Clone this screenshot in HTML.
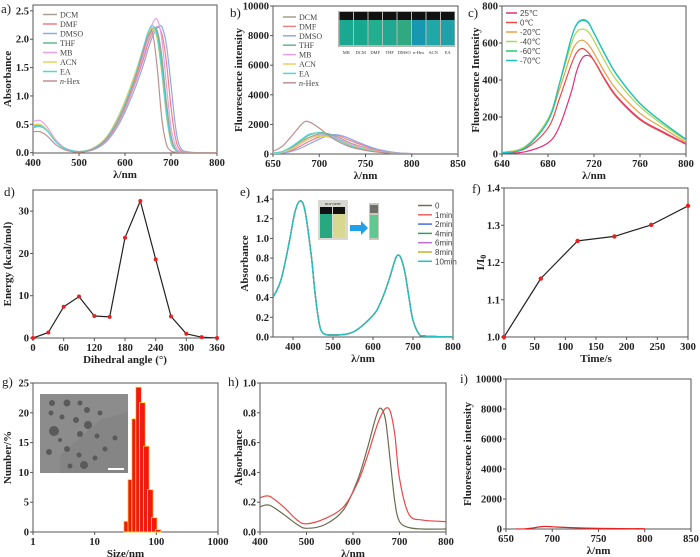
<!DOCTYPE html>
<html><head><meta charset="utf-8"><style>
html,body{margin:0;padding:0;background:#fff;}
svg{display:block;font-family:"Liberation Serif",serif;}
.tk{font-size:10.5px;font-weight:bold;fill:#222;}
.ttl{font-size:11px;font-weight:bold;fill:#222;}
.lg{font-size:8px;fill:#444;}
.lgs{font-size:8px;fill:#444;font-family:"Liberation Sans",sans-serif;}
.pl{font-size:13px;fill:#222;}
</style></head><body>
<svg id="fig" width="700" height="557" viewBox="0 0 700 557" xmlns="http://www.w3.org/2000/svg"></svg>
<script>
// ---------- data ----------
const aWl=[400,415,430,450,470,500,530,560,590,620,640,650,660,670,680,690,700,710,720,740,800];
const aNames=["DCM","DMF","DMSO","THF","MB","ACN","EA","n-Hex"];
const aColors=["#a89f95","#f08080","#8fa8e8","#60b890","#e8a0e8","#e8d060","#50d8d8","#c09090"];
const aDCM=[0.47,0.48,0.40,0.20,0.07,0.02,0.07,0.25,0.65,1.25,1.75,2.00,2.18,2.15,1.70,0.90,0.30,0.06,0.01,0,0];
const aDMF=[0.45,0.47,0.40,0.20,0.07,0.02,0.06,0.22,0.60,1.18,1.65,1.92,2.12,2.22,2.10,1.60,0.80,0.25,0.05,0,0];
const aDMSO=[0.44,0.46,0.40,0.21,0.08,0.02,0.05,0.20,0.55,1.10,1.55,1.82,2.05,2.20,2.22,1.90,1.20,0.45,0.10,0.01,0];
const aTHF=[0.47,0.48,0.40,0.19,0.07,0.02,0.07,0.26,0.67,1.28,1.78,2.03,2.20,2.10,1.55,0.75,0.22,0.05,0.01,0,0];
const aMB=[0.55,0.57,0.46,0.22,0.08,0.02,0.06,0.23,0.62,1.22,1.72,2.02,2.28,2.35,2.00,1.20,0.45,0.12,0.02,0,0];
const aACN=[0.49,0.50,0.41,0.20,0.07,0.02,0.08,0.28,0.72,1.35,1.85,2.08,2.20,2.00,1.40,0.65,0.18,0.04,0.01,0,0];
const aEA=[0.46,0.47,0.39,0.19,0.07,0.02,0.07,0.26,0.68,1.30,1.85,2.12,2.24,2.05,1.45,0.70,0.20,0.05,0.01,0,0];
const aHex=[0.37,0.37,0.30,0.14,0.05,0.01,0.06,0.24,0.64,1.25,1.80,2.05,2.10,1.50,0.60,0.15,0.03,0.01,0,0,0];

const bWl=[650,660,670,680,685,690,700,710,720,730,740,760,780,800,850];
const bDCM=[60,150,400,800,1000,1150,1350,1350,1150,850,600,250,80,20,0];
const bDMF=[30,90,250,550,720,880,1150,1300,1250,1000,750,320,100,25,0];
const bDMSO=[20,60,180,400,550,700,1000,1250,1300,1120,850,380,120,30,0];
const bTHF=[50,150,450,900,1120,1300,1450,1350,1050,720,480,190,60,15,0];
const bMB=[40,120,330,700,880,1050,1250,1250,1050,780,540,220,70,20,0];
const bACN=[40,120,350,750,920,1080,1200,1150,950,700,480,200,60,15,0];
const bEA=[60,170,500,950,1180,1350,1420,1250,950,650,430,170,50,12,0];
const bHex=[180,520,1200,1950,2200,2150,1750,1250,850,560,370,150,50,12,0];

const cWl=[640,660,680,690,700,705,710,715,720,730,740,760,780,800];
const cNames=["25℃","0℃","-20℃","-40℃","-60℃","-70℃"];
const cColors=["#e0307f","#e84a4a","#e8a040","#b0d850","#20d070","#20c0c8"];
const c25=[3,12,60,150,330,450,520,532,505,400,310,190,120,55];
const c0=[5,28,140,300,480,550,570,548,505,395,305,185,115,52];
const cm20=[8,40,180,350,540,600,615,592,545,435,345,220,140,62];
const cm40=[8,40,190,380,590,660,675,660,612,495,395,255,158,72];
const cm60=[6,33,178,380,620,700,722,708,652,532,425,272,168,78];
const cm70=[6,34,180,382,622,703,726,712,655,535,428,274,170,80];

const dAngle=[0,30,60,90,120,150,180,210,240,270,300,330,360];
const dEnergy=[0,1.3,7.4,9.8,5.2,5.0,23.7,32.4,18.6,5.1,1.0,0.2,0];

const eWl=[350,370,390,405,418,430,445,455,465,475,500,550,600,620,640,655,662,670,680,690,700,715,730,800];
const eAbs=[0.40,0.58,0.95,1.27,1.38,1.28,0.85,0.45,0.15,0.04,0.02,0.05,0.22,0.36,0.58,0.78,0.83,0.80,0.65,0.40,0.17,0.03,0.01,0];
const eNames=["0","1min","2min","4min","6min","8min","10min"];
const eColors=["#707050","#f06060","#4070e0","#30a060","#c070d0","#d0b020","#20c0c8"];

const fTime=[0,60,120,180,240,300];
const fRatio=[1.0,1.157,1.258,1.270,1.301,1.352];

const gSize=[33,38.5,44.5,51.5,59.5,69,80,92.5,107];
const gNumber=[1.8,8.8,19.0,24.3,21.7,14.4,7.1,2.4,0.4];

const hWl=[400,420,450,480,500,540,580,610,630,650,660,670,680,690,700,720,750,800];
const hOlive=[0.17,0.18,0.12,0.05,0.025,0.05,0.15,0.35,0.55,0.78,0.83,0.75,0.48,0.20,0.07,0.03,0.02,0.02];
const hRed=[0.23,0.24,0.17,0.08,0.055,0.09,0.17,0.33,0.50,0.70,0.78,0.83,0.81,0.65,0.36,0.12,0.08,0.07];

const iWl=[660,670,680,690,700,720,750,800];
const iFl=[0,10,80,170,150,90,40,20];

// ---------- helpers ----------
const NS="http://www.w3.org/2000/svg";
const fig=document.getElementById('fig');
function mk(tag,attrs,parent){const e=document.createElementNS(NS,tag);for(const k in attrs)e.setAttribute(k,attrs[k]);(parent||fig).appendChild(e);return e;}
function lin(d0,d1,r0,r1){return v=>r0+(v-d0)/(d1-d0)*(r1-r0);}
function logS(d0,d1,r0,r1){return v=>r0+(Math.log10(v)-Math.log10(d0))/(Math.log10(d1)-Math.log10(d0))*(r1-r0);}
let clipN=0;
function frame(p){
  const g=mk('g',{});
  
  
  const id='cl'+(clipN++);
  const cp=mk('clipPath',{id:id},g);mk('rect',{x:p.x0,y:p.y0,width:p.x1-p.x0,height:p.y1-p.y0},cp);
  p.g=g;p.clip='url(#'+id+')';
  return g;
}
function axes(p,xt,xl,yt,yl){
  const g=p.g;
  const box=mk('rect',{x:p.x0,y:p.y0,width:p.x1-p.x0,height:p.y1-p.y0,fill:'none',stroke:'#555','stroke-width':1},g);
  
  
  xt.forEach((v,i)=>{const x=p.sx(v);
    mk('line',{x1:x,x2:x,y1:p.y1,y2:p.y1+3,stroke:'#555'},g);
    const t=mk('text',{x:x,y:p.y1+13,'text-anchor':'middle',class:'tk'},g);t.textContent=xl[i];
    
    });
  yt.forEach((v,i)=>{const y=p.sy(v);
    mk('line',{x1:p.x0-3,x2:p.x0,y1:y,y2:y,stroke:'#555'},g);
    const t=mk('text',{x:p.x0-4,y:y+3.5,'text-anchor':'end',class:'tk'},g);t.textContent=yl[i];
    
    });
}
function titles(p,xt,yt,yx,lab,lx,ly){
  const g=p.g;
  const t1=mk('text',{x:(p.x0+p.x1)/2,y:p.y1+25,'text-anchor':'middle',class:'ttl'},g);t1.innerHTML=xt;
  
  
  const cy=(p.y0+p.y1)/2;
  const t2=mk('text',{x:yx,y:cy,'text-anchor':'middle',class:'ttl',transform:'rotate(-90 '+yx+' '+cy+')'},g);t2.innerHTML=yt;
  
  
  const t3=mk('text',{x:lx,y:ly,class:'pl'},g);t3.textContent=lab;
  
  
}
function smoothPath(P){
  let d='M'+P[0][0].toFixed(1)+','+P[0][1].toFixed(1);
  for(let i=0;i<P.length-1;i++){
    const p0=P[Math.max(0,i-1)],p1=P[i],p2=P[i+1],p3=P[Math.min(P.length-1,i+2)];
    const c1x=p1[0]+(p2[0]-p0[0])/6,c1y=p1[1]+(p2[1]-p0[1])/6;
    const c2x=p2[0]-(p3[0]-p1[0])/6,c2y=p2[1]-(p3[1]-p1[1])/6;
    d+=' C'+c1x.toFixed(1)+','+c1y.toFixed(1)+' '+c2x.toFixed(1)+','+c2y.toFixed(1)+' '+p2[0].toFixed(1)+','+p2[1].toFixed(1);
  }
  return d;
}
function series(p,xs,ys,color,name,w,straight){
  const P=xs.map((x,i)=>[p.sx(x),p.sy(ys[i])]);
  let d;
  if(straight){d='M'+P.map(q=>q[0].toFixed(1)+','+q[1].toFixed(1)).join(' L');}
  else d=smoothPath(P);
  const l=mk('path',{d:d,fill:'none',stroke:color,'stroke-width':w||1.2,'stroke-linejoin':'round','clip-path':p.clip},p.g);
  
  
  return l;
}
function legend(p,names,colors,lx,ly,step,cls,len){
  names.forEach((n,i)=>{const y=ly+i*step;
    const l=mk('line',{x1:lx,x2:lx+len,y1:y,y2:y,stroke:colors[i],'stroke-width':1.5},p.g);
    
    
    const t=mk('text',{x:lx+len+3,y:y+3,class:cls},p.g);
    if(n==='n-Hex'){t.innerHTML='<tspan font-style="italic">n</tspan>-Hex';}else t.textContent=n;
    
    });
}
function rng(a,b,s){const r=[];for(let v=a;v<=b+1e-9;v+=s)r.push(+v.toFixed(4));return r;}

// ---------- panel a ----------
const pa={name:'panel-a-absorbance-solvents',x0:33,x1:217,y0:5,y1:153};pa.sx=lin(400,800,33,217);pa.sy=lin(0,2.603,152.7,5);frame(pa);
axes(pa,rng(400,800,100),rng(400,800,100).map(String),rng(0,2.5,0.5),rng(0,2.5,0.5).map(v=>v.toFixed(1)));
[aDCM,aDMF,aDMSO,aTHF,aMB,aACN,aEA,aHex].forEach((s,i)=>series(pa,aWl,s,aColors[i],'series-'+aNames[i].toLowerCase()));
legend(pa,aNames,aColors,43,14.5,9.5,'lg',14);
titles(pa,'λ/nm','Absorbance',11,'a)',1,13);

// ---------- panel b ----------
const pb={name:'panel-b-fluorescence-solvents',x0:273,x1:458,y0:6,y1:154};pb.sx=lin(650,850,273,458);pb.sy=lin(0,10000,154,6);frame(pb);
axes(pb,rng(650,850,50),rng(650,850,50).map(String),rng(0,10000,2000),rng(0,10000,2000).map(String));
[bDCM,bDMF,bDMSO,bTHF,bMB,bACN,bEA,bHex].forEach((s,i)=>series(pb,bWl,s,aColors[i],'series-'+aNames[i].toLowerCase()));
legend(pb,aNames,aColors,283,17,9.4,'lg',13);
titles(pb,'λ/nm','Fluorescence intensity',242,'b)',230,17);
(function(){const g=mk('g',{},pb.g);
 
 
 mk('rect',{x:338,y:11,width:117,height:36,fill:'#b8b8b0'},g);
 const labs=["MB","DCM","DMF","THF","DMSO","n-Hex","ACN","EA"];
 const cols=["#1aa890","#18a890","#20b090","#20a890","#30a880","#1898b0","#20a8a8","#20a0a8"];
 labs.forEach((l,i)=>{const x=339.5+i*14.5;
  mk('rect',{x:x,y:12,width:13.5,height:8,fill:'#111'},g);
  mk('rect',{x:x,y:20,width:13.5,height:25,fill:cols[i]},g);
  const t=mk('text',{x:x+6.7,y:54,'text-anchor':'middle','font-size':'4.5px',fill:'#333'},g);t.textContent=l;});
})();

// ---------- panel c ----------
const pc={name:'panel-c-fluorescence-temperature',x0:502,x1:686,y0:6,y1:154};pc.sx=lin(640,800,502,686);pc.sy=lin(0,800,154,6);frame(pc);
axes(pc,rng(640,800,40),rng(640,800,40).map(String),rng(0,800,200),rng(0,800,200).map(String));
[c25,c0,cm20,cm40,cm60,cm70].forEach((s,i)=>series(pc,cWl,s,cColors[i],'series-'+['25c','0c','minus20c','minus40c','minus60c','minus70c'][i]));
legend(pc,cNames,cColors,506,13,9.5,'lgs',11);
titles(pc,'λ/nm','Fluorescence Intensity',479,'c)',468,17);

// ---------- panel d ----------
const pd={name:'panel-d-energy-dihedral',x0:33,x1:217,y0:190,y1:338};pd.sx=lin(0,360,33,217);pd.sy=lin(0,35,338,190);frame(pd);
axes(pd,rng(0,360,60),rng(0,360,60).map(String),rng(0,30,10),rng(0,30,10).map(String));
series(pd,dAngle,dEnergy,'#222','energy-line',1.2,true);
dAngle.forEach((a,i)=>{const c=mk('circle',{cx:pd.sx(a),cy:pd.sy(dEnergy[i]),r:2,fill:'#e82020'},pd.g);
 
 });
titles(pd,'Dihedral angle (°)','Energy (kcal/mol)',11,'d)',4,196);

// ---------- panel e ----------
const pe={name:'panel-e-absorbance-time',x0:273,x1:453,y0:190,y1:337};pe.sx=lin(350,800,273,453);pe.sy=lin(0,1.491,337,190);frame(pe);
axes(pe,rng(400,800,100),rng(400,800,100).map(String),rng(0,1.4,0.2),rng(0,1.4,0.2).map(v=>v.toFixed(1)));
eNames.forEach((n,i)=>series(pe,eWl,eAbs,eColors[i],'series-'+n,1.3));
legend(pe,eNames,eColors,418,205.5,9.3,'lgs',14);
titles(pe,'λ/nm','Absorbance',248,'e)',240,196);
(function(){const g=mk('g',{},pe.g);
 
 
 mk('rect',{x:318,y:200,width:30,height:40,fill:'#d8d8d0'},g);
 mk('rect',{x:320,y:207,width:12,height:7,fill:'#111'},g);mk('rect',{x:333,y:207,width:12,height:7,fill:'#111'},g);
 mk('rect',{x:320,y:214,width:12,height:24,fill:'#28a880'},g);mk('rect',{x:333,y:214,width:12,height:24,fill:'#d8d890'},g);
 const t=mk('text',{x:333,y:205,'text-anchor':'middle','font-size':'3.5px',fill:'#333'},g);t.textContent='BDP DPBF';
 mk('rect',{x:350,y:225,width:11,height:6,fill:'#20a0e8'},g);mk('polygon',{points:'361,221 368,228 361,235',fill:'#20a0e8'},g);
 mk('rect',{x:369,y:203,width:10,height:37,fill:'#c8c8c0'},g);mk('rect',{x:370,y:205,width:8,height:8,fill:'#707068'},g);mk('rect',{x:370,y:215,width:8,height:23,fill:'#60c890'},g);
})();

// ---------- panel f ----------
const pf={name:'panel-f-intensity-ratio',x0:504,x1:688,y0:188,y1:337};pf.sx=lin(0,300,504,688);pf.sy=lin(1.0,1.4,337,188);frame(pf);
axes(pf,rng(0,300,50),rng(0,300,50).map(String),rng(1.0,1.4,0.1),rng(1.0,1.4,0.1).map(v=>v.toFixed(1)));
series(pf,fTime,fRatio,'#222','ratio-line',1.2,true);
fTime.forEach((t,i)=>{const c=mk('circle',{cx:pf.sx(t),cy:pf.sy(fRatio[i]),r:2.2,fill:'#e82020'},pf.g);
 
 });
titles(pf,'Time/s','I/I<tspan font-size="8" dy="2">0</tspan>',484,'f)',472,193);

// ---------- panel g ----------
const pg={name:'panel-g-size-distribution',x0:33,x1:218,y0:383,y1:532};pg.sx=logS(1,1000,33,218);pg.sy=lin(0,25,532,383);frame(pg);
axes(pg,[1,10,100,1000],['1','10','100','1000'],rng(0,25,5),rng(0,25,5).map(String));
gSize.forEach((s,i)=>{const xc=pg.sx(s),w=5.6,y=pg.sy(gNumber[i]);
 const r=mk('rect',{x:xc-w/2,y:y,width:w,height:pg.y1-y,fill:'#ee1c10',stroke:'#f8e020','stroke-width':0.8},pg.g);
 
 });
(function(){const g=mk('g',{},pg.g);
 
 
 mk('rect',{x:40,y:394,width:88,height:79,fill:'#8c8c8c'},g);
 mk('polygon',{points:'100,420 128,412 128,473 100,473 60,473 60,456',fill:'#858585'},g);
 [[52,403,3],[67,403,3.5],[80,403,2.5],[51,413,2.5],[62,417,2.5],[87,410,3],[100,413,2.5],[76,420,3],[88,425,4],[54,431,5],[80,434,3],[97,436,2.5],[49,452,3],[67,449,3],[79,455,2.5],[95,458,2.5],[70,466,2.5],[84,465,4],[105,449,2.5],[115,438,2.5],[60,440,2]].forEach(d=>mk('circle',{cx:d[0],cy:d[1],r:d[2],fill:'#5a5a5a'},g));
 mk('rect',{x:108,y:468,width:16,height:2,fill:'#fff'},g);
})();
titles(pg,'Size/nm','Number/%',11,'g)',2,386);

// ---------- panel h ----------
const ph={name:'panel-h-absorbance-nanoparticles',x0:260,x1:446,y0:383,y1:532};ph.sx=lin(400,800,260,446);ph.sy=lin(0,1,532,383);frame(ph);
axes(ph,rng(400,800,100),rng(400,800,100).map(String),rng(0,1,0.2),rng(0,1,0.2).map(v=>v.toFixed(1)));
series(ph,hWl,hOlive,'#6b6b50','series-free-dye',1.2);
series(ph,hWl,hRed,'#e84848','series-nanoparticles',1.2);
titles(ph,'λ/nm','Absorbance',242,'h)',228,386);

// ---------- panel i ----------
const pi={name:'panel-i-fluorescence-nanoparticles',x0:506,x1:691,y0:379,y1:529};pi.sx=lin(650,850,506,691);pi.sy=lin(0,10000,529,379);frame(pi);
axes(pi,rng(650,850,50),rng(650,850,50).map(String),rng(0,10000,2000),rng(0,10000,2000).map(String));
series(pi,iWl,iFl,'#e82020','series-fluorescence',1.2);
titles(pi,'λ/nm','Fluorescence intensity',471,'i)',460,383);
</script>
</body></html>
